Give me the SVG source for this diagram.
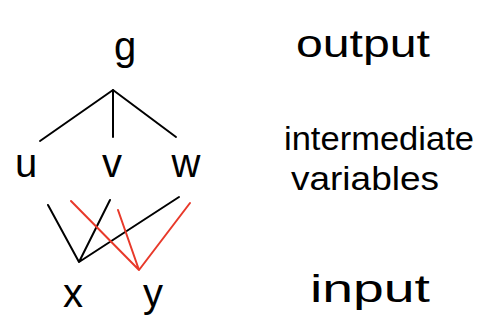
<svg xmlns="http://www.w3.org/2000/svg" width="484" height="326" viewBox="0 0 484 326">
<style>
text{font-family:"Liberation Sans","DejaVu Sans",sans-serif;fill:#000;}
.n{font-size:40px;text-anchor:middle;}
.l{font-size:38px;}
.m{font-size:34px;}
.k{stroke:#000;stroke-width:2;fill:none;stroke-linecap:round;}
.r{stroke:#e8392a;stroke-width:2;fill:none;stroke-linecap:round;}
</style>
<rect width="484" height="326" fill="#fff"/>
<g id="g"><text class="n" x="125" y="60">g</text></g>
<g id="u"><text class="n" x="26" y="177">u</text></g>
<g id="v"><text class="n" x="112" y="177">v</text></g>
<g id="w"><text class="n" x="186" y="177">w</text></g>
<g id="x"><text class="n" x="73" y="307">x</text></g>
<g id="y"><text class="n" x="153" y="307">y</text></g>
<g id="connectors">
<path class="k" d="M113 90L40 141M113 90V137M113 90L176 137"/>
<path class="k" d="M79 262L48 205M79 262L110 200M79 262L179 197"/>
<path class="r" d="M139 270L71 201M139 270L118 210M139 270L190 203"/>
</g>
<g id="labels">
<text class="l" x="296" y="57" textLength="134" lengthAdjust="spacingAndGlyphs">output</text>
<text class="m" x="284" y="150" textLength="190" lengthAdjust="spacingAndGlyphs">intermediate</text>
<text class="m" x="291" y="190" textLength="148" lengthAdjust="spacingAndGlyphs">variables</text>
<text class="l" x="310" y="302" textLength="120" lengthAdjust="spacingAndGlyphs">input</text>
</g>
</svg>
